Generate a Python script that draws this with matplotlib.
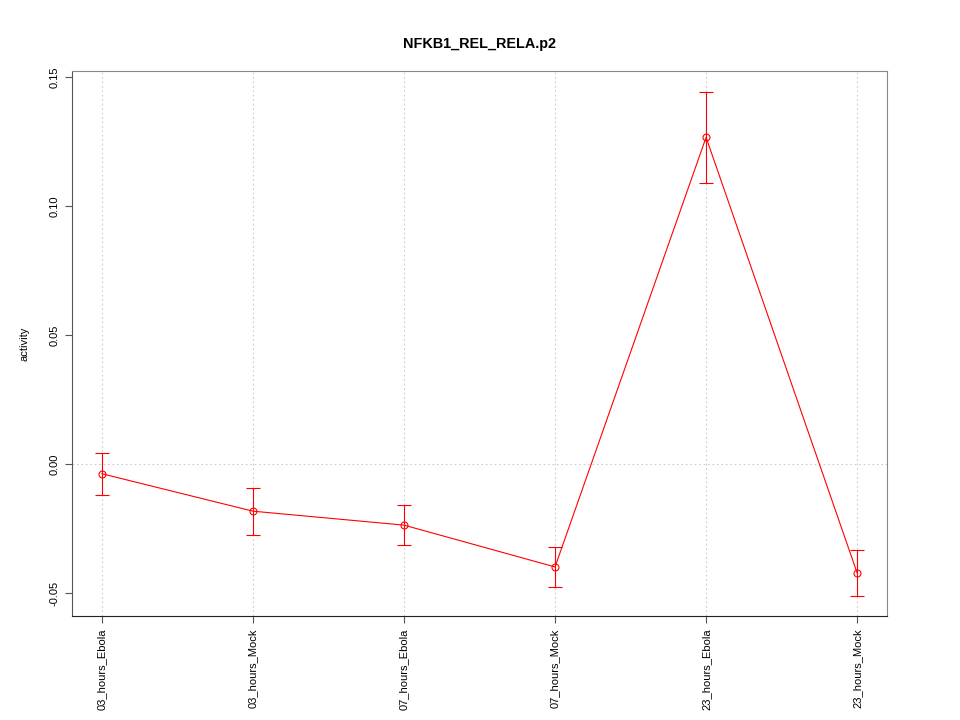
import matplotlib
matplotlib.use("Agg")
import matplotlib.pyplot as plt

plt.rcParams["font.family"] = ["Liberation Sans", "DejaVu Sans"]

conditions = ["03_hours_Ebola", "03_hours_Mock", "07_hours_Ebola",
              "07_hours_Mock", "23_hours_Ebola", "23_hours_Mock"]
activity = [-0.0037, -0.0182, -0.0236, -0.0398, 0.1266, -0.0421]
stderr = [0.0081, 0.0091, 0.0078, 0.0077, 0.0177, 0.0089]
y_ticks = [-0.05, 0.00, 0.05, 0.10, 0.15]

x = list(range(1, len(conditions) + 1))

fig = plt.figure(figsize=(9.6, 7.2), dpi=100)
ax = fig.add_axes([0.0747, 0.1444, 0.8496, 0.7563])

# reference lines
for xi in x:
    ax.axvline(xi, color="#cccccc", linestyle=(0, (1.5, 2.5)), linewidth=0.8, zorder=0)
ax.axhline(0, color="#cccccc", linestyle=(0, (1.5, 2.5)), linewidth=0.8, zorder=0)

ax.errorbar(x, activity, yerr=stderr, color="red", linewidth=0.8,
            elinewidth=0.8, capsize=5.3, capthick=0.8,
            marker="o", markersize=5, markerfacecolor="none", markeredgewidth=0.8)

lo = min(a - s for a, s in zip(activity, stderr))
hi = max(a + s for a, s in zip(activity, stderr))
pad = (hi - lo) * 0.04
ax.set_ylim(lo - pad, hi + pad)
ax.set_xlim(0.8, len(conditions) + 0.2)

ax.set_xticks(x)
ax.set_xticklabels(conditions, rotation=90, fontsize=8)
ax.set_yticks(y_ticks)
ax.set_yticklabels(["%.2f" % v for v in y_ticks], rotation=90, va="center", fontsize=8)
ax.tick_params(length=5, width=0.8, color="#555555", pad=4)

ax.spines["left"].set_color("#555555")
ax.spines["bottom"].set_color("#222222")
ax.spines["top"].set_color("#888888")
ax.spines["right"].set_color("#888888")

ax.set_ylabel("activity", fontsize=8, labelpad=14)
ax.set_title("NFKB1_REL_RELA.p2", fontsize=10.4, fontweight="bold", pad=17)

plt.savefig("out.png", dpi=100)
